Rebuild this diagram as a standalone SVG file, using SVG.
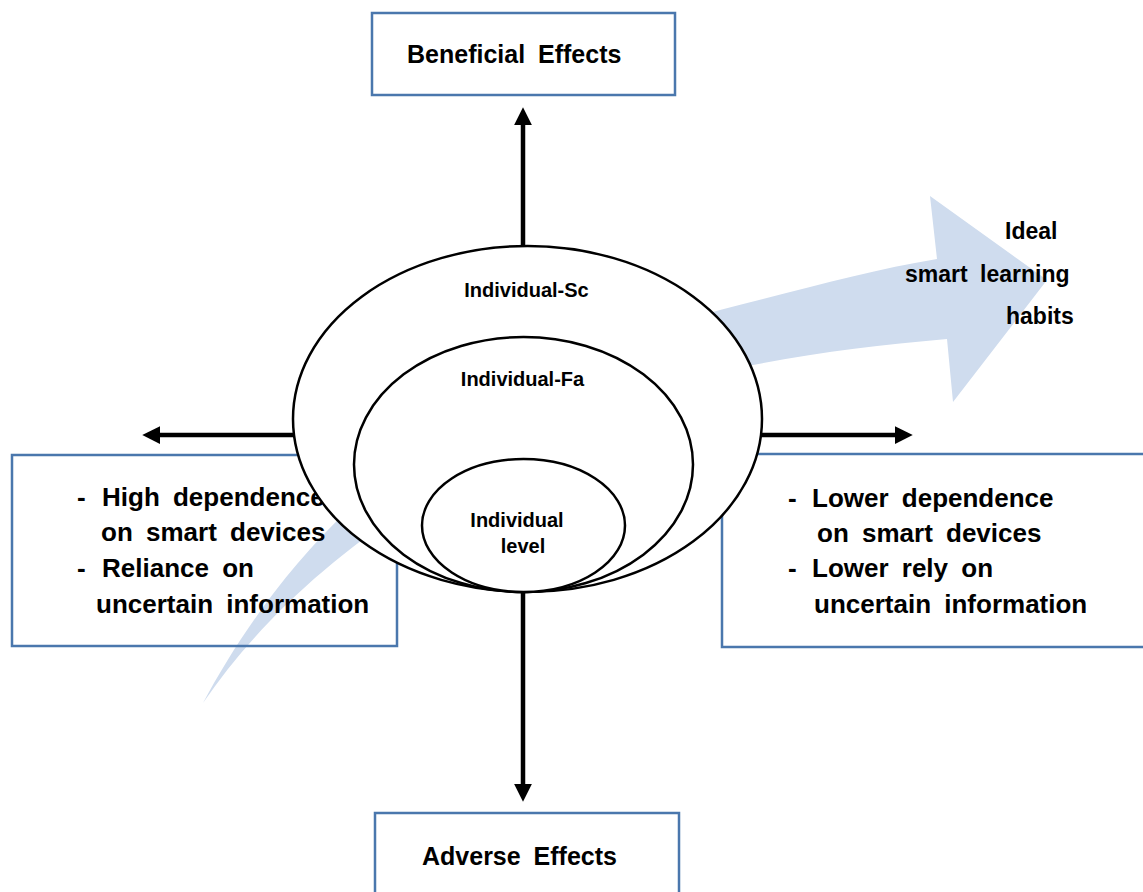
<svg xmlns="http://www.w3.org/2000/svg" width="1143" height="892" viewBox="0 0 1143 892">
<defs>
<style>
.box{fill:none;stroke:#4a77ad;stroke-width:2.5}
.ell{fill:#ffffff;stroke:#000000;stroke-width:2.5}
.con{stroke:#000000;stroke-width:4.5;fill:none}
text{font-family:"Liberation Sans",Arial,sans-serif;font-weight:bold;fill:#000000;word-spacing:6px}
.t26{font-size:26px}
.t25{font-size:25px}
.t23{font-size:23px}
.t20{font-size:20px;word-spacing:0}
</style>
<marker id="ah" markerUnits="userSpaceOnUse" markerWidth="18" markerHeight="18" viewBox="0 0 16 16" refX="2" refY="8" orient="auto">
<path d="M0,0 L16,8 L0,16 Z" fill="#000000"/>
</marker>
</defs>
<rect width="1143" height="892" fill="#ffffff"/>
<g id="big-arrow">
<path d="M203,703 C280,560 420,390 720,310 C800,290 870,270 937,259 L930,196 L1047,280 L953,402 L947,339 C880,345 820,352 753,365 C490,425 300,560 203,703 Z" fill="#cfdcee"/>
</g>
<g id="box-beneficial">
<rect class="box" x="372" y="13" width="303" height="82" fill="#ffffff"/>
<text class="t25" x="407" y="63">Beneficial Effects</text>
</g>
<g id="box-adverse">
<rect class="box" x="375" y="813" width="304" height="100"/>
<text class="t25" x="422" y="865">Adverse Effects</text>
</g>
<g id="box-left">
<rect class="box" x="12" y="455" width="385" height="191"/>
<text class="t26" x="77" y="506">-<tspan x="102">High dependence</tspan></text>
<text class="t26" x="101" y="541">on smart devices</text>
<text class="t26" x="77" y="577">-<tspan x="102">Reliance on</tspan></text>
<text class="t26" x="96" y="613">uncertain information</text>
</g>
<g id="box-right">
<rect class="box" x="722" y="454" width="440" height="193" fill="#ffffff"/>
<text class="t26" x="788" y="507">-<tspan x="812">Lower dependence</tspan></text>
<text class="t26" x="817" y="542">on smart devices</text>
<text class="t26" x="788" y="577">-<tspan x="812">Lower rely on</tspan></text>
<text class="t26" x="814" y="613">uncertain information</text>
</g>
<g id="connectors">
<line class="con" x1="523" y1="246" x2="523" y2="123" marker-end="url(#ah)"/>
<line class="con" x1="523" y1="592" x2="523" y2="786" marker-end="url(#ah)"/>
<line class="con" x1="293" y1="435" x2="158" y2="435" marker-end="url(#ah)"/>
<line class="con" x1="762" y1="435" x2="897" y2="435" marker-end="url(#ah)"/>
</g>
<g id="ellipse-sc">
<ellipse class="ell" cx="527.5" cy="419" rx="234.5" ry="173"/>
<text class="t20" x="526.5" y="297" text-anchor="middle">Individual-Sc</text>
</g>
<g id="ellipse-fa">
<ellipse class="ell" cx="523.5" cy="464.5" rx="169.5" ry="127.5"/>
<text class="t20" x="522.5" y="386" text-anchor="middle">Individual-Fa</text>
</g>
<g id="ellipse-level">
<ellipse class="ell" cx="523.5" cy="525.5" rx="101.5" ry="66.5"/>
<text class="t20" x="517" y="527" text-anchor="middle">Individual</text>
<text class="t20" x="523" y="553" text-anchor="middle">level</text>
</g>
<g id="label-ideal">
<text class="t23" x="1005" y="239">Ideal</text>
<text class="t23" x="905" y="282">smart learning</text>
<text class="t23" x="1006" y="324">habits</text>
</g>
</svg>
